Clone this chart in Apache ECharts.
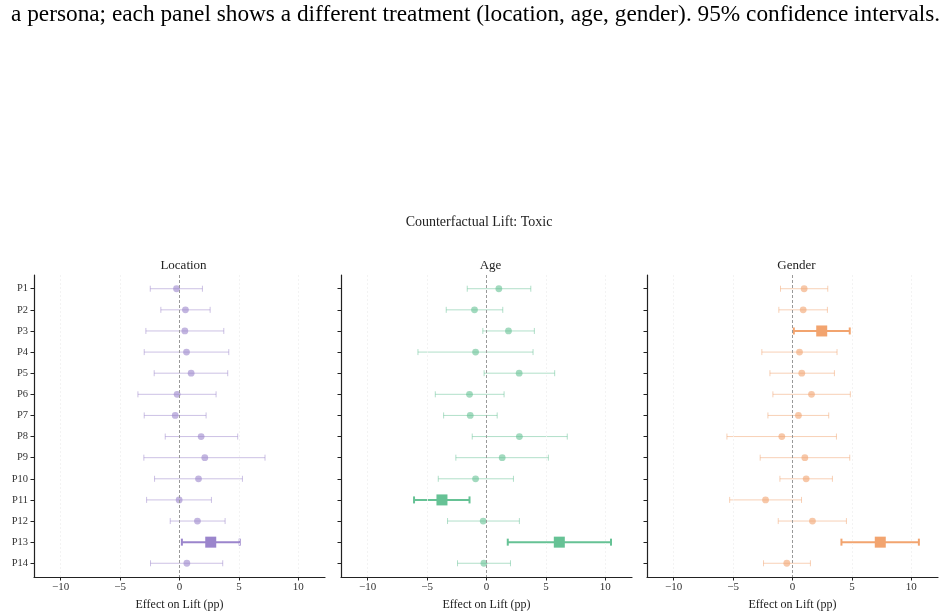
<!DOCTYPE html>
<html>
<head>
<meta charset="utf-8">
<script src="https://cdn.jsdelivr.net/npm/echarts@6/dist/echarts.min.js"></script>
<style>
html,body{margin:0;padding:0;background:#fff;}
#chart{width:946px;height:616px;}
</style>
</head>
<body>
<div id="chart"></div>
<script>
const captionText = 'a persona; each panel shows a different treatment (location, age, gender). 95% confidence intervals.';
const suptitleText = 'Counterfactual Lift: Toxic';
const panelTitles = ['Location', 'Age', 'Gender'];
const xAxisName = 'Effect on Lift (pp)';
const personas = ['P1','P2','P3','P4','P5','P6','P7','P8','P9','P10','P11','P12','P13','P14'];
const xTicks = [-10, -5, 0, 5, 10];

const locMean = [-0.25, 0.5, 0.45, 0.59, 0.98, -0.2, -0.36, 1.82, 2.13, 1.6, -0.03, 1.51, 2.63, 0.62];
const locLo   = [-2.46, -1.57, -2.83, -2.97, -2.13, -3.5, -2.97, -1.2, -3.0, -2.1, -2.77, -0.78, 0.2, -2.44];
const locHi   = [1.93, 2.58, 3.73, 4.15, 4.06, 3.08, 2.24, 4.9, 7.2, 5.3, 2.69, 3.84, 5.07, 3.64];
const locSig  = ['P13'];

const ageMean = [1.04, -1.01, 1.85, -0.92, 2.75, -1.43, -1.37, 2.77, 1.32, -0.92, -3.75, -0.28, 6.13, -0.22];
const ageLo   = [-1.62, -3.39, -0.31, -5.77, -0.2, -4.31, -3.61, -1.2, -2.58, -4.06, -6.1, -3.28, 1.79, -2.44];
const ageHi   = [3.73, 1.37, 4.03, 3.92, 5.74, 1.48, 0.9, 6.8, 5.21, 2.27, -1.43, 2.77, 10.48, 2.02];
const ageSig  = ['P11', 'P13'];

const genMean = [0.98, 0.9, 2.46, 0.59, 0.78, 1.6, 0.5, -0.9, 1.04, 1.15, -2.27, 1.68, 7.39, -0.48];
const genLo   = [-1.01, -1.15, 0.11, -2.58, -1.9, -1.65, -2.07, -5.52, -2.72, -1.06, -5.29, -1.2, 4.12, -2.44];
const genHi   = [2.97, 2.94, 4.82, 3.75, 3.53, 4.87, 3.05, 3.7, 4.82, 3.36, 0.76, 4.54, 10.64, 1.51];
const genSig  = ['P3', 'P13'];

const panels = [
  {mean: locMean, lo: locLo, hi: locHi, sig: locSig, color: [155,133,204]},
  {mean: ageMean, lo: ageLo, hi: ageHi, sig: ageSig, color: [102,194,149]},
  {mean: genMean, lo: genLo, hi: genHi, sig: genSig, color: [242,164,111]}
];
const gridPos = [{left: 34, width: 291}, {left: 341, width: 291}, {left: 647, width: 291}];
const FONT = '"Liberation Serif", "DejaVu Serif", serif';

const chart = echarts.init(document.getElementById('chart'), null, {renderer: 'canvas'});

const grids = [], xAxes = [], yAxes = [], series = [], titles = [];
titles.push({text: captionText, left: 6, top: -2, textStyle: {fontFamily: FONT, fontWeight: 'normal', fontSize: 23.3, color: '#000'}});
titles.push({text: suptitleText, left: 474, top: 210, textAlign: 'center', textStyle: {fontFamily: FONT, fontWeight: 'normal', fontSize: 14, color: '#222'}});

panels.forEach((p, i) => {
  grids.push({left: gridPos[i].left, width: gridPos[i].width, top: 275, height: 302});
  titles.push({text: panelTitles[i], left: gridPos[i].left + gridPos[i].width / 2 - 1, top: 254, textAlign: 'center',
    textStyle: {fontFamily: FONT, fontWeight: 'normal', fontSize: 13, color: '#222'}});
  xAxes.push({
    type: 'value', gridIndex: i, min: -12.25, max: 12.25,
    name: xAxisName, nameLocation: 'middle', nameGap: 22,
    nameTextStyle: {fontFamily: FONT, fontSize: 12, color: '#222'},
    axisLine: {show: true, onZero: false, lineStyle: {color: '#222', width: 1.2}},
    axisTick: {show: true, length: 3.5, customValues: xTicks, lineStyle: {color: '#222'}},
    axisLabel: {customValues: xTicks, fontFamily: FONT, fontSize: 11, color: '#333', margin: 5,
      formatter: v => (v < 0 ? '\u2212' + Math.abs(v) : String(v))},
    splitLine: {show: false}
  });
  yAxes.push({
    type: 'value', gridIndex: i, min: -0.65, max: 13.65, inverse: true,
    axisLine: {show: true, onZero: false, lineStyle: {color: '#222', width: 1.2}},
    axisTick: {show: true, length: 3.5, customValues: personas.map((_, k) => k), lineStyle: {color: '#222'}},
    axisLabel: {show: i === 0, customValues: personas.map((_, k) => k), fontFamily: FONT, fontSize: 10.5, color: '#333', margin: 6,
      formatter: v => personas[Math.round(v)]},
    splitLine: {show: false}
  });
  const c = p.color;
  const solid = `rgb(${c[0]},${c[1]},${c[2]})`;
  const lineLight = `rgba(${c[0]},${c[1]},${c[2]},0.5)`;
  const dotLight = `rgba(${c[0]},${c[1]},${c[2]},0.6)`;
  const data = personas.map((name, k) => [p.mean[k], k, p.lo[k], p.hi[k], p.sig.includes(name) ? 1 : 0]);
  series.push({
    type: 'custom', xAxisIndex: i, yAxisIndex: i, data: [], silent: true, z: 1,
    renderItem: () => null,
    markLine: {
      silent: true, symbol: 'none', label: {show: false}, animation: false,
      data: xTicks.filter(t => t !== 0).map(t => ({xAxis: t, lineStyle: {color: '#f0f0f0', type: [2, 2], width: 0.8}}))
        .concat([{xAxis: 0, lineStyle: {color: '#999', type: [3, 2], width: 1}}])
    }
  });
  series.push({
    type: 'custom', xAxisIndex: i, yAxisIndex: i, data: data, z: 3,
    encode: {x: 0, y: 1},
    renderItem: (params, api) => {
      const y = api.value(1);
      const sig = api.value(4) === 1;
      const pm = api.coord([api.value(0), y]);
      const pl = api.coord([api.value(2), y]);
      const ph = api.coord([api.value(3), y]);
      const col = sig ? solid : lineLight;
      const lw = sig ? 2 : 1;
      const cap = sig ? 3.5 : 3;
      const children = [
        {type: 'line', shape: {x1: pl[0], y1: pl[1], x2: ph[0], y2: ph[1]}, style: {stroke: col, lineWidth: lw}},
        {type: 'line', shape: {x1: pl[0], y1: pl[1] - cap, x2: pl[0], y2: pl[1] + cap}, style: {stroke: col, lineWidth: lw}},
        {type: 'line', shape: {x1: ph[0], y1: ph[1] - cap, x2: ph[0], y2: ph[1] + cap}, style: {stroke: col, lineWidth: lw}}
      ];
      if (sig) {
        children.push({type: 'rect', shape: {x: pm[0] - 5.5, y: pm[1] - 5.5, width: 11, height: 11}, style: {fill: solid}});
      } else {
        children.push({type: 'circle', shape: {cx: pm[0], cy: pm[1], r: 3.4}, style: {fill: dotLight}});
      }
      return {type: 'group', children: children};
    }
  });
});

chart.setOption({
  animation: false,
  backgroundColor: '#fff',
  title: titles,
  grid: grids,
  xAxis: xAxes,
  yAxis: yAxes,
  series: series
});
</script>
</body>
</html>
